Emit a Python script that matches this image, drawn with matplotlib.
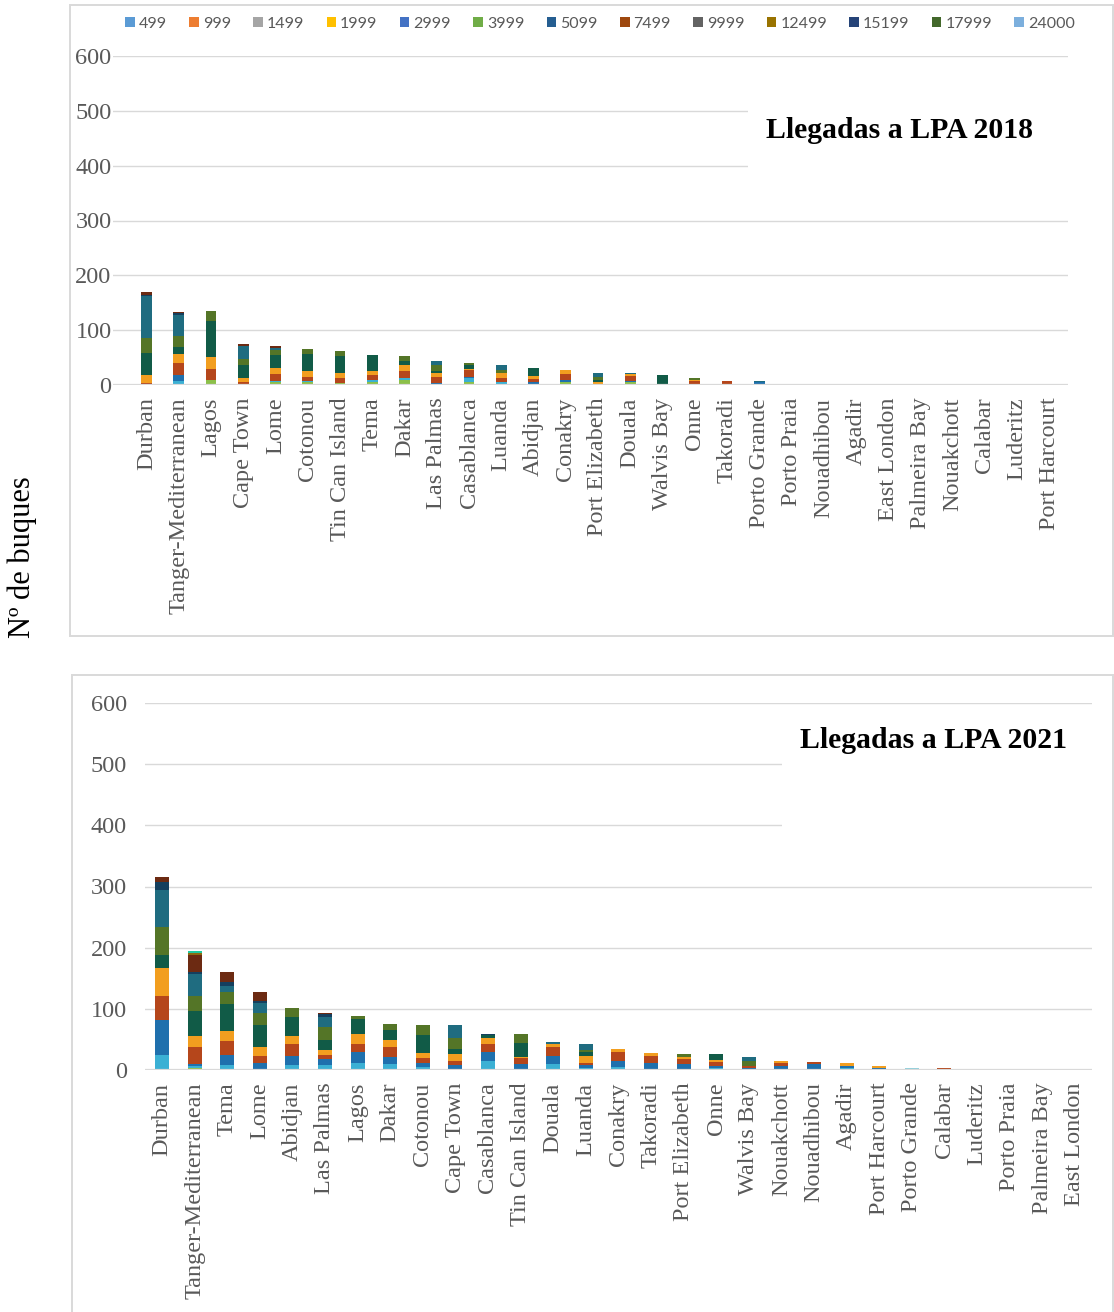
import matplotlib
matplotlib.use("Agg")
import matplotlib.pyplot as plt
import numpy as np
from matplotlib.patches import Rectangle, Patch

# Vessel size classes (GT upper bound)
size_classes = ["499", "999", "1499", "1999", "2999", "3999", "5099",
                "7499", "9999", "12499", "15199", "17999", "24000"]

# ---------------- 2018 ----------------
ports_2018 = ["Durban", "Tanger-Mediterranean", "Lagos", "Cape Town", "Lome",
              "Cotonou", "Tin Can Island", "Tema", "Dakar", "Las Palmas",
              "Casablanca", "Luanda", "Abidjan", "Conakry", "Port Elizabeth",
              "Douala", "Walvis Bay", "Onne", "Takoradi", "Porto Grande",
              "Porto Praia", "Nouadhibou", "Agadir", "East London",
              "Palmeira Bay", "Nouakchott", "Calabar", "Luderitz",
              "Port Harcourt"]

gt499_2018 = [0, 0, 9, 0, 6, 5, 4, 5, 9, 0, 5, 0, 0, 5, 0, 5, 0, 0, 0, 0, 0, 0, 0, 0, 0, 0, 0, 0, 0]
gt999_2018 = [0, 8, 0, 0, 2, 2, 0, 4, 3, 2, 7, 6, 2, 0, 0, 0, 0, 0, 0, 1, 0, 1, 0, 0, 0, 0, 0, 0, 0]
gt1499_2018 = [0, 10, 0, 0, 0, 0, 0, 0, 0, 2, 3, 0, 3, 4, 0, 3, 0, 0, 1, 5, 2, 0, 0, 0, 0, 0, 0, 0, 0]
gt1999_2018 = [4, 23, 20, 5, 12, 7, 8, 10, 14, 10, 12, 7, 6, 11, 0, 8, 0, 7, 6, 0, 0, 0, 0.5, 0, 0, 0, 0, 0, 0]
gt2999_2018 = [15, 16, 22, 7, 11, 12, 10, 7, 10, 7, 3, 8, 6, 7, 6, 4, 0, 3, 0, 0, 0, 0, 0, 0, 0, 0, 0, 0, 0]
gt3999_2018 = [39, 13, 65, 24, 23, 31, 30, 29, 7, 4, 7, 0, 14, 0, 3, 0, 18, 0, 0, 0, 0, 0, 0, 0, 0, 0, 0, 0, 0]
gt5099_2018 = [27, 20, 19, 11, 9, 8, 10, 0, 10, 11, 3, 7, 0, 0, 6, 0, 0, 2, 0, 0, 0, 0, 0, 0, 0, 0, 0, 0, 0]
gt7499_2018 = [77, 38, 0, 24, 5, 0, 0, 0, 0, 8, 0, 8, 0, 0, 7, 2, 0, 0, 0, 1, 0, 0, 0, 0, 0, 0, 0, 0, 0]
gt9999_2018 = [3, 3, 0, 0, 0, 0, 0, 0, 0, 0, 0, 0, 0, 0, 0, 0, 0, 0, 0, 0, 0, 0, 0, 0, 0, 0, 0, 0, 0]
gt12499_2018 = [4, 2, 0, 4, 3, 0, 0, 0, 0, 0, 0, 0, 0, 0, 0, 0, 0, 0, 0, 0, 0, 0, 0, 0, 0, 0, 0, 0, 0]
gt15199_2018 = [0, 1, 0, 0, 0, 0, 0, 0, 0, 0, 0, 0, 0, 0, 0, 0, 0, 0, 0, 0, 0, 0, 0, 0, 0, 0, 0, 0, 0]
gt17999_2018 = [0] * 29
gt24000_2018 = [0] * 29

# ---------------- 2021 ----------------
ports_2021 = ["Durban", "Tanger-Mediterranean", "Tema", "Lome", "Abidjan",
              "Las Palmas", "Lagos", "Dakar", "Cotonou", "Cape Town",
              "Casablanca", "Tin Can Island", "Douala", "Luanda", "Conakry",
              "Takoradi", "Port Elizabeth", "Onne", "Walvis Bay", "Nouakchott",
              "Nouadhibou", "Agadir", "Port Harcourt", "Porto Grande",
              "Calabar", "Luderitz", "Porto Praia", "Palmeira Bay",
              "East London"]

gt499_2021 = [0, 3, 0, 0, 0, 0, 0, 0, 0, 0, 2, 0, 0, 0, 0, 0, 0, 0, 0, 0, 0, 0, 0, 0, 0, 0, 0, 0, 0]
gt999_2021 = [25, 3, 8, 2, 8, 8, 12, 9, 5, 0, 13, 2, 9, 3, 5, 2, 0, 3, 0, 0, 2, 3, 0, 0, 0, 0, 0, 0, 0]
gt1499_2021 = [56, 3, 16, 10, 15, 10, 18, 12, 7, 8, 15, 8, 14, 5, 10, 10, 10, 3, 4, 6, 7, 3, 4, 0, 2, 0, 0, 0, 0]
gt1999_2021 = [40, 29, 23, 11, 20, 7, 13, 17, 8, 7, 13, 9, 14, 4, 15, 11, 8, 7, 2, 6, 4, 0, 0, 0, 1, 0, 0, 0, 0]
gt2999_2021 = [45, 17, 17, 14, 13, 7, 16, 11, 7, 11, 9, 3, 6, 11, 5, 4, 4, 4, 0, 2, 0, 5, 2, 0, 0, 0, 0, 0, 0]
gt3999_2021 = [22, 41, 44, 36, 30, 17, 25, 17, 30, 9, 6, 22, 0, 7, 0, 0, 0, 9, 0, 0, 0, 0, 0, 0, 0, 0, 0, 0, 0]
gt5099_2021 = [46, 25, 20, 21, 15, 21, 5, 9, 16, 17, 0, 15, 0, 3, 0, 0, 4, 0, 8, 0, 0, 0, 0, 0, 0, 0, 0, 0, 0]
gt7499_2021 = [61, 36, 10, 15, 1, 17, 0, 0, 0, 21, 0, 0, 3, 9, 0, 0, 0, 0, 7, 0, 0, 0, 0, 0, 0, 0, 0, 0, 0]
gt9999_2021 = [12, 4, 6, 4, 0, 5, 0, 0, 0, 0, 1, 0, 0, 0, 0, 0, 0, 0, 0, 0, 0, 0, 0, 0, 0, 0, 0, 0, 0]
gt12499_2021 = [8, 27, 17, 15, 0, 2, 0, 0, 0, 0, 0, 0, 0, 0, 0, 0, 0, 0, 0, 0, 0, 0, 0, 0, 0, 0, 0, 0, 0]
gt15199_2021 = [0, 3, 0, 0, 0, 0, 0, 0, 0, 0, 0, 0, 0, 0, 0, 0, 0, 0, 0, 0, 0, 0, 0, 0, 0, 0, 0, 0, 0]
gt17999_2021 = [0, 4, 0, 0, 0, 0, 0, 0, 0, 0, 0, 0, 0, 0, 0, 0, 0, 0, 0, 0, 0, 0, 0, 0, 0, 0, 0, 0, 0]
gt24000_2021 = [0, 0, 0, 0, 0, 0, 0, 0, 0, 0, 0, 0, 0, 0, 0, 0, 0, 0, 0, 0, 0, 0, 0, 3, 0, 1.5, 0, 0, 0]

yticks = [0, 100, 200, 300, 400, 500, 600]

# Fill colours of the stacked segments, bottom to top
bar_colors = ["#8CC04A", "#3BB0D4", "#1F70AD", "#B5461B", "#F29E1F",
              "#115B47", "#547527", "#1F6C80", "#153F5E", "#6C2A12",
              "#8D6B10", "#20C9A0", "#8FD0DC"]
# Swatch colours shown in the legend
legend_colors = ["#5B9BD5", "#ED7D31", "#A5A5A5", "#FFC000", "#4472C4",
                 "#70AD47", "#255E91", "#9E480E", "#636363", "#997300",
                 "#264478", "#43682B", "#7CAFDD"]

series_2018 = [gt499_2018, gt999_2018, gt1499_2018, gt1999_2018, gt2999_2018,
               gt3999_2018, gt5099_2018, gt7499_2018, gt9999_2018,
               gt12499_2018, gt15199_2018, gt17999_2018, gt24000_2018]
series_2021 = [gt499_2021, gt999_2021, gt1499_2021, gt1999_2021, gt2999_2021,
               gt3999_2021, gt5099_2021, gt7499_2021, gt9999_2021,
               gt12499_2021, gt15199_2021, gt17999_2021, gt24000_2021]

SERIF = "Liberation Serif"
GRID = "#D9D9D9"
TXT = "#595959"

W, H = 1114, 1312
fig = plt.figure(figsize=(W / 100, H / 100), dpi=100)


def px_axes(x0, x1, y_top, y_bot):
    return fig.add_axes([x0 / W, 1 - y_bot / H, (x1 - x0) / W, (y_bot - y_top) / H])


def draw_panel(ax, ports, series, width, xlim, title, box_x, title_xy, ypad):
    x = np.arange(len(ports))
    bottom = np.zeros(len(ports))
    for vals, col in zip(series, bar_colors):
        v = np.array(vals, dtype=float)
        ax.bar(x, v, width, bottom=bottom, color=col, edgecolor="none", zorder=3)
        bottom += v
    ax.set_xlim(*xlim)
    ax.set_ylim(0, 600)
    ax.set_yticks(yticks)
    ax.set_yticklabels([str(t) for t in yticks], fontfamily=SERIF,
                       fontsize=17.5, color=TXT)
    ax.set_xticks(x)
    ax.set_xticklabels(ports, rotation=90, fontfamily=SERIF, fontsize=17.5,
                       color=TXT)
    ax.tick_params(axis="both", length=0)
    ax.tick_params(axis="x", pad=9)
    ax.tick_params(axis="y", pad=ypad)
    for s in ax.spines.values():
        s.set_visible(False)
    ax.yaxis.grid(True, color=GRID, linewidth=1.0)
    ax.set_axisbelow(True)
    ax.axhline(0, color=GRID, linewidth=1.6, zorder=4)
    # white backdrop behind the panel title
    ax.add_patch(Rectangle((box_x, 380 / 600), 1 - box_x + 0.01, 140 / 600,
                           transform=ax.transAxes, facecolor="white",
                           edgecolor="none", zorder=2))
    ax.text(title_xy[0], title_xy[1], title, transform=ax.transAxes, ha="right",
            va="center", fontfamily=SERIF, fontweight="bold", fontsize=21.4,
            color="black", zorder=5)


# panel frames
fig.patches.append(Rectangle((70 / W, 1 - 636 / H), (1113 - 70) / W, (636 - 5) / H,
                             transform=fig.transFigure, facecolor="none",
                             edgecolor=GRID, linewidth=1.4, zorder=0))
fig.patches.append(Rectangle((72 / W, 1 - 1320 / H), (1113 - 72) / W, (1320 - 675) / H,
                             transform=fig.transFigure, facecolor="none",
                             edgecolor=GRID, linewidth=1.4, zorder=0))

ax1 = px_axes(113, 1068, 56, 385)
draw_panel(ax1, ports_2018, series_2018, 0.34, (-1.039, 28.574),
           "Llegadas a LPA 2018", 0.665, (0.963, 0.775), 1)

ax2 = px_axes(145, 1092, 703, 1070)
draw_panel(ax2, ports_2021, series_2021, 0.43, (-0.521, 28.53),
           "Llegadas a LPA 2021", 0.673, (0.9736, 0.897), 13)

handles = [Patch(facecolor=c, edgecolor="none") for c in legend_colors]
fig.legend(handles, size_classes, loc="center", bbox_to_anchor=(600 / W, 1 - 23.5 / H),
           ncol=13, frameon=False, handlelength=0.6, handleheight=0.6,
           handletextpad=0.25, columnspacing=1.4,
           prop={"family": "Lato", "size": 11.5}, labelcolor=TXT)

fig.text(22 / W, 1 - 557 / H, "Nº de buques", rotation=90, ha="center",
         va="center", fontfamily=SERIF, fontsize=22, color="black")

fig.savefig("out.png", dpi=100, facecolor="white")
